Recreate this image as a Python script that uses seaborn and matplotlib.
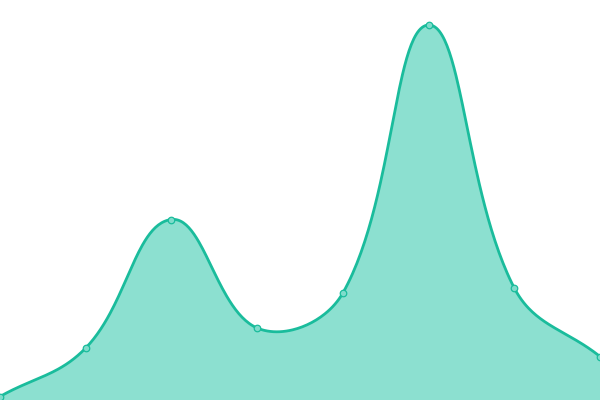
import matplotlib
matplotlib.use("Agg")
import matplotlib.pyplot as plt
import seaborn as sns
import numpy as np
import pandas as pd

# values (x = index, y in chart units 0..400)
x_vals = [0, 1, 2, 3, 4, 5, 6, 7]
y_vals = [3.5, 52, 180.5, 72, 107, 375, 112, 43.5]

LINE = "#1abc9c"
FILL = "#8ce0d0"
TENSION = 0.4
X_STEP = 600 / 7  # pixels per x unit, so the spline works in screen space


def spline(xs, ys, t=TENSION, steps=60):
    """Tension spline (control points scaled by neighbour distances)."""
    P = np.column_stack([np.asarray(xs, float) * X_STEP, np.asarray(ys, float)])
    n = len(P)
    cp_prev, cp_next = [], []
    for i in range(n):
        prev = P[i - 1] if i > 0 else P[i]
        nxt = P[i + 1] if i < n - 1 else P[i]
        d01 = np.linalg.norm(P[i] - prev)
        d12 = np.linalg.norm(nxt - P[i])
        s01 = d01 / (d01 + d12)
        s12 = d12 / (d01 + d12)
        cp_prev.append(P[i] - t * s01 * (nxt - prev))
        cp_next.append(P[i] + t * s12 * (nxt - prev))
    out = []
    u = np.linspace(0, 1, steps, endpoint=False)[:, None]
    for i in range(n - 1):
        p1, c1, c2, p2 = P[i], cp_next[i], cp_prev[i + 1], P[i + 1]
        out.append((1 - u) ** 3 * p1 + 3 * (1 - u) ** 2 * u * c1
                   + 3 * (1 - u) * u ** 2 * c2 + u ** 3 * p2)
    out.append(P[-1:])
    out = np.vstack(out)
    return out[:, 0] / X_STEP, out[:, 1]


sns.set_style("white")
fig = plt.figure(figsize=(6, 4), dpi=100)
ax = fig.add_axes([0, 0, 1, 1])

sx, sy = spline(x_vals, y_vals)
curve = pd.DataFrame({"x": sx, "y": sy})
ax.fill_between(curve["x"], 0, curve["y"], color=FILL, linewidth=0, zorder=1)
sns.lineplot(data=curve, x="x", y="y", ax=ax, color=LINE, linewidth=2.0,
             sort=False, zorder=2)

pts = pd.DataFrame({"x": x_vals, "y": y_vals})
sns.scatterplot(data=pts, x="x", y="y", ax=ax, s=22, color="#7fdccb",
                edgecolor=LINE, linewidth=0.9, zorder=3, clip_on=False)

ax.set_xlim(0, 7)
ax.set_ylim(0, 400)
ax.axis("off")

fig.savefig("out.png", dpi=100)
plt.close(fig)
